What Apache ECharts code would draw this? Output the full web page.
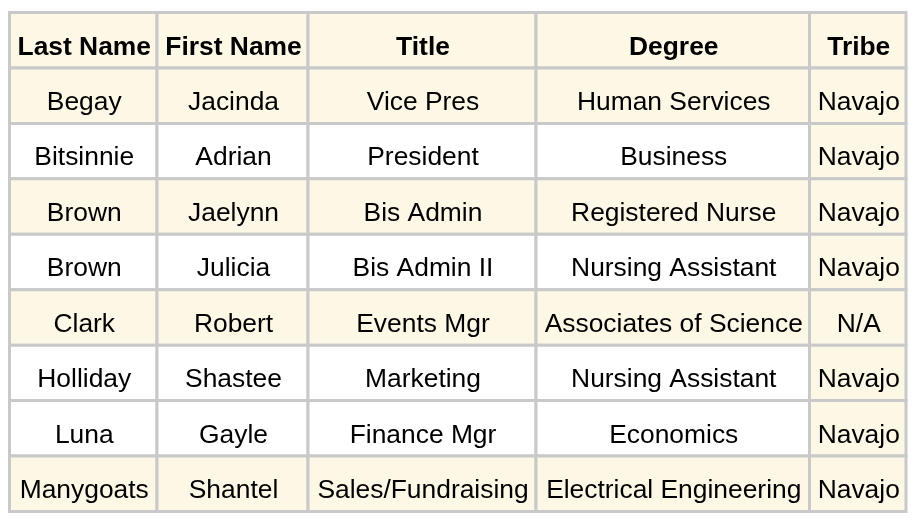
<!DOCTYPE html>
<html>
<head>
<meta charset="utf-8">
<script src="https://cdn.jsdelivr.net/npm/echarts@6/dist/echarts.min.js"></script>
<style>
  html, body { margin: 0; padding: 0; background: #ffffff; }
  #chart { width: 918px; height: 522px; }
</style>
</head>
<body>
<div id="chart"></div>
<script>
// ---- data ----
const headers    = ['Last Name', 'First Name', 'Title', 'Degree', 'Tribe'];
const lastNames  = ['Begay', 'Bitsinnie', 'Brown', 'Brown', 'Clark', 'Holliday', 'Luna', 'Manygoats'];
const firstNames = ['Jacinda', 'Adrian', 'Jaelynn', 'Julicia', 'Robert', 'Shastee', 'Gayle', 'Shantel'];
const titles     = ['Vice Pres', 'President', 'Bis Admin', 'Bis Admin II', 'Events Mgr', 'Marketing', 'Finance Mgr', 'Sales/Fundraising'];
const degrees    = ['Human Services', 'Business', 'Registered Nurse', 'Nursing Assistant', 'Associates of Science', 'Nursing Assistant', 'Economics', 'Electrical Engineering'];
const tribes     = ['Navajo', 'Navajo', 'Navajo', 'Navajo', 'N/A', 'Navajo', 'Navajo', 'Navajo'];

// ---- layout / style ----
const layout = {
  colWidths: [147.5, 151, 228, 273.5, 96.5],
  textOffsetY: 7,
  fontSize: 26.4
};
const styleCfg = {
  cream: '#fdf7e5',
  white: '#ffffff',
  border: '#c9c9c9',
  borderWidth: 3,
  text: '#000000',
  shadedBodyRows: [0, 2, 4, 7],
  shadedColumns: [4]
};

const columns = [lastNames, firstNames, titles, degrees, tribes];
const colEdges = [0];
layout.colWidths.forEach(w => colEdges.push(colEdges[colEdges.length - 1] + w));
const totalWidth = colEdges[colEdges.length - 1];

const rowKeys = ['header'].concat(lastNames.map((_, i) => 'r' + i));

const cells = [];
headers.forEach((h, c) => cells.push({ value: [c, 0], name: h }));
lastNames.forEach((_, r) => {
  columns.forEach((col, c) => cells.push({ value: [c, r + 1], name: col[r] }));
});

function fillFor(c, r) {
  if (r === 0) return styleCfg.cream;
  if (styleCfg.shadedColumns.indexOf(c) >= 0) return styleCfg.cream;
  if (styleCfg.shadedBodyRows.indexOf(r - 1) >= 0) return styleCfg.cream;
  return styleCfg.white;
}

const chart = echarts.init(document.getElementById('chart'), null, { renderer: 'canvas' });
chart.setOption({
  animation: false,
  backgroundColor: '#ffffff',
  grid: { left: 9.5, right: 12, top: 12.5, bottom: 10.5 },
  xAxis: { type: 'value', min: 0, max: totalWidth, show: false },
  yAxis: { type: 'category', data: rowKeys, inverse: true, show: false },
  series: [{
    type: 'custom',
    clip: false,
    data: cells,
    renderItem: function (params, api) {
      const c = api.value(0);
      const r = api.value(1);
      const left = api.coord([colEdges[c], r]);
      const right = api.coord([colEdges[c + 1], r]);
      const h = api.size([0, 1])[1];
      const x0 = left[0], x1 = right[0];
      const cy = left[1];
      const item = cells[params.dataIndex];
      return {
        type: 'group',
        children: [{
          type: 'rect',
          shape: { x: x0, y: cy - h / 2, width: x1 - x0, height: h },
          style: { fill: fillFor(c, r), stroke: styleCfg.border, lineWidth: styleCfg.borderWidth }
        }, {
          type: 'text',
          style: {
            text: item.name,
            x: (x0 + x1) / 2 + 1,
            y: cy + layout.textOffsetY,
            align: 'center',
            verticalAlign: 'middle',
            fill: styleCfg.text,
            fontFamily: 'Liberation Sans, Arial, sans-serif',
            fontSize: layout.fontSize,
            fontWeight: r === 0 ? 'bold' : 'normal'
          }
        }]
      };
    }
  }]
});
</script>
</body>
</html>
